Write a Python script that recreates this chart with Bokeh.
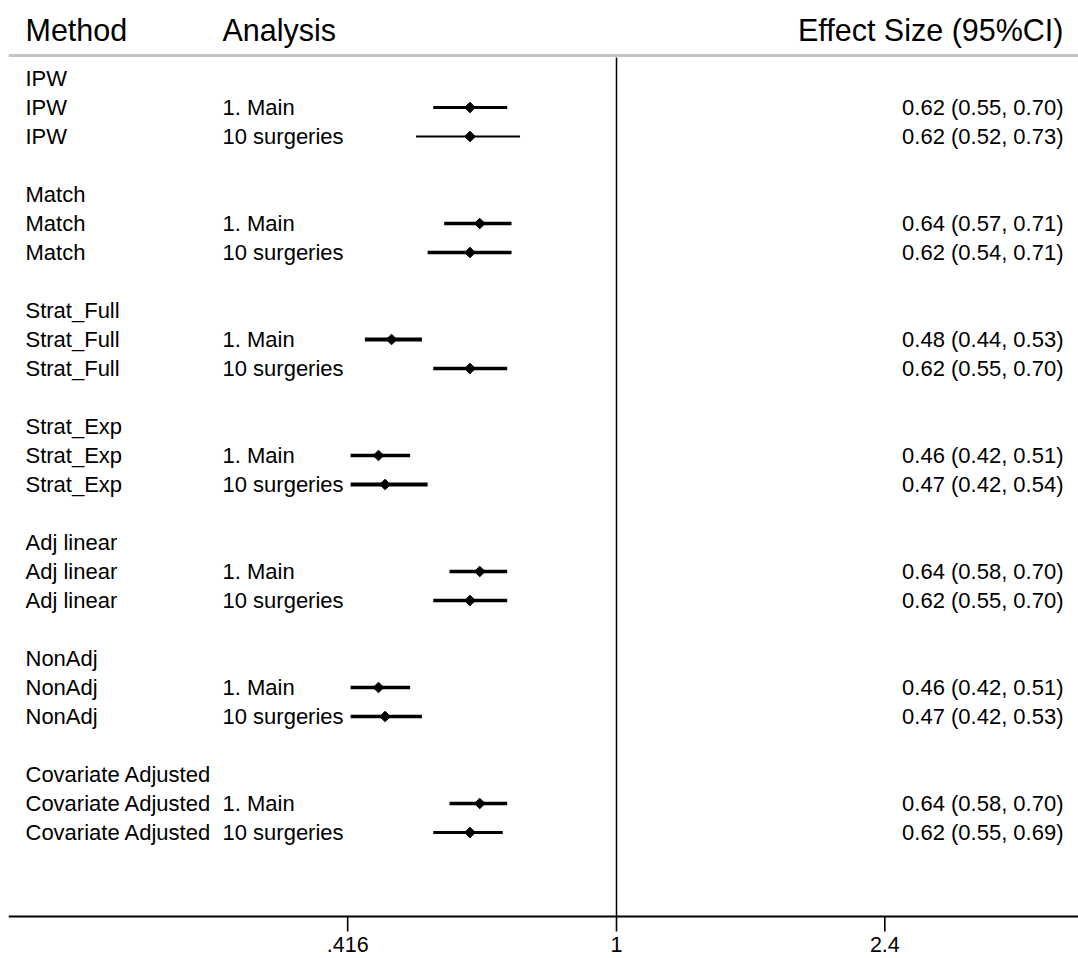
import numpy as np
from bokeh.plotting import figure
from bokeh.models import Range1d, FixedTicker, ColumnDataSource
from bokeh.core.properties import value
from bokeh.embed import file_html
from bokeh.resources import INLINE

# ---------------- data ----------------
methods = ["IPW", "Match", "Strat_Full", "Strat_Exp", "Adj linear", "NonAdj", "Covariate Adjusted"]
analyses = ["1. Main", "10 surgeries"]
estimates = [0.62, 0.62, 0.64, 0.62, 0.48, 0.62, 0.46, 0.47, 0.64, 0.62, 0.46, 0.47, 0.64, 0.62]
lower = [0.55, 0.52, 0.57, 0.54, 0.44, 0.55, 0.42, 0.42, 0.58, 0.55, 0.42, 0.42, 0.58, 0.55]
upper = [0.70, 0.73, 0.71, 0.71, 0.53, 0.70, 0.51, 0.54, 0.70, 0.70, 0.51, 0.53, 0.70, 0.69]
line_weights = [3, 2, 3.5, 3.5, 4, 3.5, 3.5, 4, 3.5, 3.5, 3.5, 3.5, 3.5, 3]
tick_values = [0.416, 1, 2.4]
tick_labels = [".416", "1", "2.4"]
headers = ["Method", "Analysis", "Effect Size (95%CI)"]

# ---------------- layout helpers ----------------
PX_PER_LOG = 306.5
NULL_PX = 616
FRAME_LEFT = 8
FRAME_RIGHT = 1078
ROW0_PX = 78
ROW_STEP = 29.0
AXIS_PX = 916
TICK_END_PX = 931
FRAME_BOTTOM = 933


def px_to_x(px):
    return float(np.exp((px - NULL_PX) / PX_PER_LOG))


def py_to_y(py):
    # rows run downward; y is the negative row index
    return -(py - ROW0_PX) / ROW_STEP


x_min, x_max = px_to_x(FRAME_LEFT), px_to_x(FRAME_RIGHT)
y_top, y_bottom = py_to_y(0), py_to_y(FRAME_BOTTOM)
y_axis = py_to_y(AXIS_PX)
y_tick_end = py_to_y(TICK_END_PX)

# rows
head_rows, head_names = [], []
rows, row_methods, row_analyses = [], [], []
for g, m in enumerate(methods):
    head_rows.append(-(4 * g))
    head_names.append(m)
    for a_i, a in enumerate(analyses):
        rows.append(-(4 * g + 1 + a_i))
        row_methods.append(m)
        row_analyses.append(a)

effect_text = [f"{e:.2f} ({l:.2f}, {u:.2f})" for e, l, u in zip(estimates, lower, upper)]

src = ColumnDataSource(dict(row=rows, est=estimates, lo=lower, hi=upper, lw=line_weights,
                            meth=row_methods, ana=row_analyses, eff=effect_text))
tick_src = ColumnDataSource(dict(x=tick_values,
                                 ymid=[(y_axis + y_tick_end) / 2] * len(tick_values),
                                 h=[abs(y_axis - y_tick_end)] * len(tick_values)))

FONT = value("Liberation Sans")
ROW_FS = "22px"
HEAD_FS = "30.5px"

p = figure(width=1078, height=958, x_axis_type="log",
           x_range=Range1d(x_min, x_max), y_range=Range1d(y_bottom, y_top),
           output_backend="svg", toolbar_location=None, y_axis_location=None,
           min_border_left=FRAME_LEFT, min_border_right=0, min_border_top=0,
           min_border_bottom=958 - FRAME_BOTTOM)
p.outline_line_color = None
p.xgrid.visible = False
p.ygrid.visible = False
p.background_fill_color = "white"
p.border_fill_color = "white"

# header
p.text(x=[px_to_x(25), px_to_x(222)], y=[py_to_y(29)] * 2, text=headers[:2],
       text_font=FONT, text_font_size=HEAD_FS, text_baseline="middle", text_align="left",
       text_color="black")
p.text(x=[px_to_x(1063)], y=[py_to_y(29)], text=headers[2:],
       text_font=FONT, text_font_size=HEAD_FS, text_baseline="middle", text_align="right",
       text_color="black")
p.segment(x0=[x_min], x1=[x_max], y0=[py_to_y(55)], y1=[py_to_y(55)],
          line_color="#c4c4c4", line_width=3)

# null line
p.segment(x0=[1], x1=[1], y0=[py_to_y(57)], y1=[y_axis], line_color="black", line_width=1.5)

# axis line and tick marks at the tick values on the log scale
p.segment(x0=[x_min], x1=[x_max], y0=[y_axis], y1=[y_axis], line_color="black", line_width=2)
p.rect(x="x", y="ymid", width=1.6, width_units="screen", height="h", source=tick_src,
       fill_color="black", line_color=None)

# group headers
p.text(x=[px_to_x(25)] * len(head_rows), y=head_rows, text=head_names,
       text_font=FONT, text_font_size=ROW_FS, text_baseline="middle", text_align="left",
       text_color="black")

# row labels
p.text(x=px_to_x(25), y="row", text="meth", source=src,
       text_font=FONT, text_font_size=ROW_FS, text_baseline="middle", text_align="left",
       text_color="black")
p.text(x=px_to_x(222), y="row", text="ana", source=src,
       text_font=FONT, text_font_size=ROW_FS, text_baseline="middle", text_align="left",
       text_color="black")
p.text(x=px_to_x(1063), y="row", text="eff", source=src,
       text_font=FONT, text_font_size=ROW_FS, text_baseline="middle", text_align="right",
       text_color="black")

# CIs and points
p.segment(x0="lo", x1="hi", y0="row", y1="row", line_width="lw", line_color="black", source=src)
p.scatter(x="est", y="row", marker="square", angle=np.pi / 4, size=7.5, fill_color="black",
          line_color="black", source=src)

# axis (tick labels)
ax = p.xaxis[0]
ax.ticker = FixedTicker(ticks=tick_values)
ax.major_label_overrides = {v: l for v, l in zip(tick_values, tick_labels)}
ax.axis_line_color = None
ax.major_tick_line_color = None
ax.minor_tick_line_color = None
ax.major_tick_in = 0
ax.major_tick_out = 0
ax.minor_tick_out = 0
ax.minor_tick_in = 0
ax.major_label_text_font = "Liberation Sans"
ax.major_label_text_font_size = "21.5px"
ax.major_label_text_color = "black"
ax.major_label_standoff = 3

open("out.html", "w").write(file_html(p, INLINE))
